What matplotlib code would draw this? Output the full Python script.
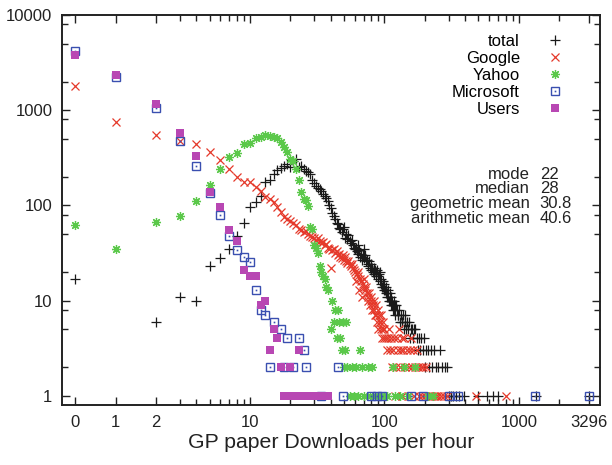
import numpy as np
import matplotlib
matplotlib.use("Agg")
import matplotlib.pyplot as plt
from matplotlib.legend_handler import HandlerTuple

plt.rcParams['font.family'] = ['Liberation Sans', 'DejaVu Sans']

# downloads in one hour (x) -> number of hours with that many downloads (y)
total_x = [0, 2, 3, 4, 5, 6, 7, 8, 9, 10, 11, 12, 13, 14, 15, 16, 17, 18, 19, 20,
           21, 22, 23, 24, 25, 26, 27, 28, 29, 30, 31, 32, 33, 34, 35, 36, 37, 38, 39, 40,
           41, 42, 43, 44, 45, 46, 47, 48, 49, 50, 51, 52, 53, 54, 55, 56, 57, 58, 59, 60,
           61, 62, 63, 64, 65, 66, 67, 68, 69, 70, 71, 72, 73, 74, 75, 76, 77, 78, 79, 80,
           81, 82, 83, 84, 85, 86, 87, 88, 89, 90, 91, 92, 93, 94, 95, 96, 97, 98, 99, 100,
           101, 102, 103, 104, 105, 106, 107, 108, 109, 110, 111, 112, 113, 114, 115, 116,
           117, 118, 119, 120, 122, 124, 125, 127, 128, 130, 132, 134, 135, 137, 139, 141,
           143, 145, 147, 150, 152, 155, 157, 160, 163, 166, 170, 173, 176, 180, 184, 188,
           192, 196, 200, 205, 210, 215, 220, 226, 232, 240, 248, 258, 268, 280, 290, 300,
           310, 325, 340, 360, 390, 500, 580, 640, 700, 1330, 3296]
total_y = [17, 6, 11, 10, 23, 28, 35, 48, 66, 96, 108, 127, 176, 183, 215, 235, 250, 262, 270, 255,
           296, 305, 255, 262, 240, 232, 222, 215, 185, 170, 158, 152, 148, 142, 132, 126, 120, 110, 100, 94,
           84, 78, 72, 66, 64, 58, 56, 53, 57, 60, 46, 50, 44, 49, 42, 40, 43, 38, 36, 35,
           36, 33, 38, 31, 34, 29, 31, 27, 30, 35, 28, 30, 26, 27, 24, 23, 26, 22, 21, 24,
           22, 20, 22, 19, 21, 18, 20, 21, 18, 17, 19, 16, 20, 15, 17, 14, 16, 14, 13, 15,
           13, 12, 14, 11, 12, 13, 11, 10, 12, 10, 9, 11, 9, 10, 8, 9,
           10, 8, 9, 7, 9, 8, 7, 7, 8, 6, 7, 6, 6, 7, 5, 6,
           7, 5, 6, 5, 6, 4, 5, 5, 4, 5, 5, 4, 3, 4, 3, 4,
           3, 4, 2, 3, 3, 2, 3, 2, 3, 2, 2, 3, 2, 2, 2, 1,
           1, 1, 1, 1, 1, 1, 1, 1, 1, 1, 1]

google_x = [0, 1, 2, 3, 4, 5, 6, 7, 8, 9, 10, 11, 12, 13, 14, 15, 16, 17, 18, 19,
            20, 21, 22, 23, 24, 25, 26, 27, 28, 29, 30, 31, 32, 33, 34, 35, 36, 37, 38, 39,
            40, 41, 42, 43, 44, 45, 46, 47, 48, 49, 50, 51, 52, 53, 54, 55, 56, 57, 58, 59,
            60, 61, 62, 63, 64, 65, 66, 67, 68, 69, 70, 71, 72, 73, 74, 75, 76, 77, 78, 79,
            80, 81, 82, 83, 84, 85, 86, 87, 88, 89, 90, 91, 92, 93, 94, 95, 96, 97, 98, 99,
            100, 102, 104, 106, 108, 110, 112, 114, 116, 118, 120, 122, 124, 126, 128, 130,
            132, 134, 136, 138, 140, 143, 146, 149, 152, 155, 158, 161, 164, 167, 170, 174,
            178, 182, 186, 190, 195, 200, 205, 211, 218, 226, 234, 242, 252, 262, 275, 290,
            480, 800]
google_y = [1780, 750, 545, 480, 438, 360, 298, 243, 200, 176, 176, 156, 140, 122, 117, 108, 96, 85, 76, 72,
            68, 65, 62, 57, 55, 52, 54, 50, 48, 47, 45, 43, 46, 42, 40, 41, 38, 39, 36, 35,
            22, 34, 35, 32, 33, 30, 31, 29, 28, 30, 27, 29, 26, 25, 26, 24, 23, 24, 22, 21,
            20, 16, 19, 18, 20, 13, 17, 16, 11, 15, 17, 14, 13, 14, 12, 11, 10, 12, 9, 11,
            10, 8, 9, 8, 10, 7, 7, 9, 6, 8, 5, 7, 6, 6, 5, 7, 4, 6, 5, 4,
            5, 4, 3, 4, 5, 3, 4, 2, 3, 4, 1, 2, 4, 3, 5, 2,
            3, 4, 1, 3, 4, 2, 3, 1, 2, 3, 4, 2, 3, 1, 2, 3,
            2, 1, 2, 1, 2, 1, 2, 1, 1, 1, 1, 1, 1, 1, 1, 1,
            1, 1]

yahoo_x = [0, 1, 2, 3, 4, 5, 6, 7, 8, 9, 10, 11, 12, 13, 14, 15, 16, 17, 18, 19,
           20, 21, 22, 23, 24, 25, 26, 27, 28, 29, 30, 31, 32, 33, 34, 35, 36, 37, 38, 40,
           41, 42, 43, 44, 45, 46, 47, 48, 49, 50, 51, 52, 53, 55, 57, 59, 61, 63, 66, 68,
           71, 75, 78, 81, 85, 90, 95, 100, 105, 115, 120, 130, 140, 150, 170, 210, 230]
yahoo_y = [62, 35, 67, 77, 110, 165, 240, 320, 355, 446, 450, 515, 524, 545, 535, 524, 505, 465, 410, 362,
           310, 296, 243, 183, 138, 117, 113, 98, 59, 57, 38, 36, 32, 23, 20, 18, 17, 14, 13, 5,
           10, 6, 8, 4, 8, 6, 4, 3, 6, 2, 3, 6, 2, 1, 2, 1, 2, 1, 3, 2,
           1, 2, 1, 2, 1, 1, 1, 1, 1, 2, 1, 1, 2, 1, 2, 1, 1]

microsoft_x = [0, 1, 2, 3, 4, 5, 6, 7, 8, 9, 10, 11, 12, 13, 14, 15, 17, 18, 19, 21,
               23, 25, 26, 34, 45, 49, 79, 88, 96, 158, 195, 300, 350, 1310, 3296]
microsoft_y = [4200, 2250, 1050, 480, 258, 134, 80, 48, 34, 29, 25.5, 13, 8, 7, 2, 6, 5, 2, 4, 2,
               4, 3, 2, 1, 2, 1, 1, 1, 1, 1, 1, 1, 1, 1, 1]

users_x = [0, 1, 2, 3, 4, 5, 6, 7, 8, 9, 10, 11, 12, 13, 14, 15, 16, 17, 18, 19,
           20, 21, 22, 23, 24, 25, 26, 27, 28, 29, 30, 31, 32, 34, 36, 38]
users_y = [3800, 2340, 1160, 580, 330, 137, 96, 55, 42, 21, 18, 18, 9, 10, 3, 5, 4, 2, 1, 1,
           2, 1, 1, 3, 1, 1, 1, 1, 1, 1, 1, 1, 1, 1, 1, 1]

stat_names = ["mode", "median", "geometric mean", "arithmetic mean"]
stat_values = ["22", "28", "30.8", "40.6"]

x_ticks = [0, 1, 2, 10, 100, 1000, 3296]


def xpos(v):
    # zero downloads cannot sit on a log axis, gnuplot style: draw it at 0.5
    v = np.asarray(v, dtype=float)
    return np.where(v == 0, 0.5, v)


c_total = '#1a1a1a'
c_google = '#e5392b'
c_yahoo = '#5bc84a'
c_ms = '#3a4fb0'
c_users = '#b847b3'

fig = plt.figure(figsize=(6.12, 4.65), dpi=100)
ax = fig.add_axes([0.1013, 0.129, 0.879, 0.8387])

h_total, = ax.plot(xpos(total_x), total_y, '+', color=c_total, ms=7, mew=0.9)
h_google, = ax.plot(xpos(google_x), google_y, 'x', color=c_google, ms=6, mew=0.9)
h_yahoo, = ax.plot(xpos(yahoo_x), yahoo_y, marker=(8, 2, 0), ls='none', color=c_yahoo, ms=6.5, mew=0.9)
h_ms, = ax.plot(xpos(microsoft_x), microsoft_y, 's', mfc='none', mec=c_ms, ms=6, mew=1.0)
h_ms_dot, = ax.plot(xpos(microsoft_x), microsoft_y, 's', color=c_ms, ms=1.2, mew=0)
h_users, = ax.plot(xpos(users_x), users_y, 's', color=c_users, mec=c_users, ms=6, mew=0)

ax.set_xscale('log')
ax.set_yscale('log')
ax.set_xlim(0.4, 4000)
ax.set_ylim(0.8, 10000)

ax.set_xticks(xpos(x_ticks))
ax.set_xticklabels([str(t) for t in x_ticks])
ax.set_xticks([3, 4, 5, 6, 7, 8, 9, 20, 30, 40, 50, 60, 70, 80, 90,
               200, 300, 400, 500, 600, 700, 800, 900, 2000], minor=True)
ax.xaxis.set_minor_formatter(matplotlib.ticker.NullFormatter())

ax.set_yticks([1, 10, 100, 1000, 10000])
ax.set_yticklabels(['1', '10', '100', '1000', '10000'])
ax.set_yticks([2, 5, 8, 20, 50, 80, 200, 500, 800, 2000, 5000, 8000], minor=True)
ax.yaxis.set_minor_formatter(matplotlib.ticker.NullFormatter())

ax.tick_params(which='both', direction='in', top=True, right=True, labelsize=12,
               width=1.0, color='#222222', labelcolor='#222222')
ax.tick_params(which='major', length=6, pad=7)
ax.tick_params(which='minor', length=4)
for s in ax.spines.values():
    s.set_linewidth(1.4)
    s.set_color('#222222')

ax.set_xlabel('GP paper Downloads per hour', fontsize=15.3, color='#222222', labelpad=2)

ax.legend([h_total, h_google, h_yahoo, (h_ms, h_ms_dot), h_users],
          ['total', 'Google', 'Yahoo', 'Microsoft', 'Users'],
          handler_map={tuple: HandlerTuple(ndivide=1, pad=0)},
          loc='upper right', bbox_to_anchor=(0.947, 0.952), markerfirst=False,
          frameon=False, fontsize=12, labelspacing=0.12, handlelength=2.0,
          handletextpad=1.1, borderpad=0, borderaxespad=0, numpoints=1)

for i, (name, val) in enumerate(zip(stat_names, stat_values)):
    yy = 0.592 - i * 0.0377
    ax.text(0.870, yy, name, transform=ax.transAxes, ha='right', va='center',
            fontsize=12, color='#222222')
    ax.text(0.888, yy, val, transform=ax.transAxes, ha='left', va='center',
            fontsize=12, color='#222222')

fig.savefig('out.png', dpi=100)
